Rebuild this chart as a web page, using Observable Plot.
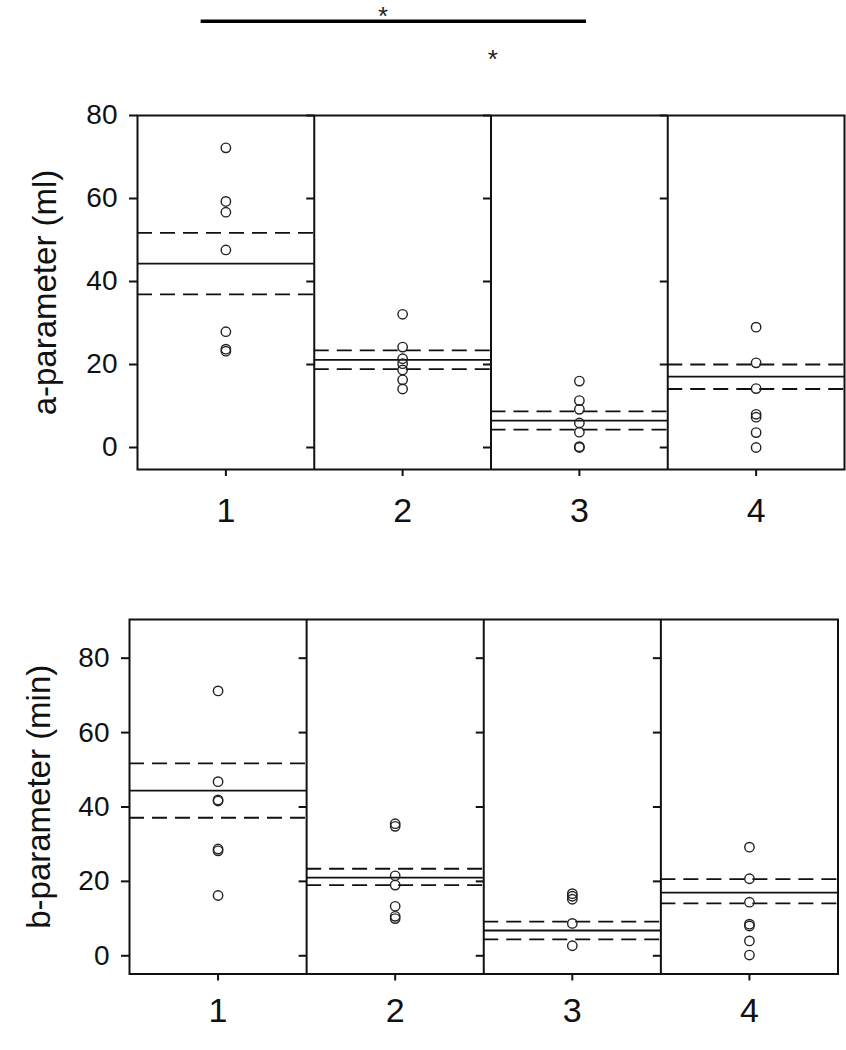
<!DOCTYPE html>
<html>
<head>
<meta charset="utf-8">
<script src="https://cdn.jsdelivr.net/npm/d3@7"></script>
<script src="https://cdn.jsdelivr.net/npm/@observablehq/plot@0.6"></script>
<style>
  html, body { margin: 0; padding: 0; background: #fff; }
  #chart { width: 846px; }
  #chart svg { display: block; }
</style>
</head>
<body>
<div id="chart"></div>
<script>
// ---- data ----
const groups = [1, 2, 3, 4];
const dividers = [1.5, 2.5, 3.5];
const yTicks = [0, 20, 40, 60, 80];

// a-parameter (ml): individual values per group
const a1 = [72.2, 59.3, 56.7, 47.6, 27.9, 23.7, 23.2];
const a2 = [32.1, 24.2, 21.4, 20.2, 18.7, 16.3, 14.1];
const a3 = [16.0, 11.3, 9.2, 5.9, 3.7, 0.2, 0.0];
const a4 = [29.0, 20.4, 14.2, 8.0, 7.3, 3.6, 0.0];
const aMean = [44.3, 21.1, 6.5, 17.1];
const aUpper = [51.7, 23.4, 8.7, 20.0];
const aLower = [36.9, 18.9, 4.3, 14.1];

// b-parameter (min): individual values per group
const b1 = [71.2, 46.8, 41.9, 41.6, 28.7, 28.2, 16.2];
const b2 = [35.5, 34.8, 21.5, 19.0, 13.3, 10.6, 10.0];
const b3 = [16.7, 16.0, 15.2, 8.7, 2.7];
const b4 = [29.2, 20.7, 14.4, 8.5, 8.0, 4.0, 0.2];
const bMean = [44.4, 21.0, 6.8, 17.0];
const bUpper = [51.7, 23.4, 9.2, 20.6];
const bLower = [37.1, 19.0, 4.4, 14.1];

// significance annotation above the top panel
const sigBar = [{x1: 0.86, x2: 3.04, y: 102.7}];
const sigStars = [{x: 1.89, y: 106.2, text: "*"}, {x: 2.51, y: 95.9, text: "*"}];

// ---- helpers ----
const FONT = "'Liberation Sans', Arial, sans-serif";
const INK = "#111";

function toPoints(lists) {
  const out = [];
  lists.forEach((vals, i) => vals.forEach(v => out.push({g: groups[i], v})));
  return out;
}
function toLevels(arr) {
  return arr.map((v, i) => ({g: groups[i], v}));
}
// short tick pointing left from a divider line (inner y-ticks)
const leftTick = { draw(ctx) { ctx.moveTo(-8, 0); ctx.lineTo(0, 0); } };

function panel({lists, mean, upper, lower, title, yDomain, height, mL, mR, mT, mB, titleDx, xPad, extra = []}) {
  const innerTicks = [];
  dividers.forEach(d => yTicks.forEach(t => innerTicks.push({x: d, y: t})));
  return Plot.plot({
    width: 846,
    height,
    marginLeft: mL,
    marginRight: mR,
    marginTop: mT,
    marginBottom: mB,
    style: {fontFamily: FONT, background: "white", color: INK, overflow: "visible"},
    x: {domain: [0.5, 4.5]},
    y: {domain: yDomain},
    marks: [
      Plot.axisY({ticks: yTicks, tickSize: 8, tickPadding: 12, fontSize: 28, label: null, stroke: INK, strokeWidth: 2}),
      Plot.axisX({ticks: groups, tickSize: 7, tickPadding: xPad, fontSize: 34, label: null, tickFormat: d => String(d), stroke: INK, strokeWidth: 2}),
      Plot.text([title], {frameAnchor: "left", rotate: -90, dx: titleDx, fontSize: 33, fill: INK, textAnchor: "middle", lineAnchor: "middle"}),
      Plot.ruleX(dividers, {stroke: INK, strokeWidth: 2}),
      Plot.dot(innerTicks, {x: "x", y: "y", symbol: leftTick, r: 4, stroke: INK, fill: "none", strokeWidth: 2}),
      Plot.ruleY(toLevels(mean), {y: "v", x1: d => d.g - 0.5, x2: d => d.g + 0.5, stroke: INK, strokeWidth: 1.8}),
      Plot.ruleY(toLevels(upper), {y: "v", x1: d => d.g - 0.5, x2: d => d.g + 0.5, stroke: INK, strokeWidth: 1.8, strokeDasharray: "15,8"}),
      Plot.ruleY(toLevels(lower), {y: "v", x1: d => d.g - 0.5, x2: d => d.g + 0.5, stroke: INK, strokeWidth: 1.8, strokeDasharray: "15,8"}),
      Plot.dot(toPoints(lists), {x: "g", y: "v", r: 4.7, stroke: "#222", fill: "none", strokeWidth: 1.4}),
      Plot.frame({stroke: INK, strokeWidth: 2}),
      ...extra
    ]
  });
}

const topPanel = panel({
  lists: [a1, a2, a3, a4], mean: aMean, upper: aUpper, lower: aLower,
  title: "a-parameter (ml)", yDomain: [-5.3, 80], height: 560,
  mL: 137, mR: 2, mT: 115, mB: 91, titleDx: -92, xPad: 21,
  extra: [
    Plot.ruleY(sigBar, {y: "y", x1: "x1", x2: "x2", stroke: "#000", strokeWidth: 3.5}),
    Plot.text(sigStars, {x: "x", y: "y", text: "text", fontSize: 26, fill: "#222", lineAnchor: "top"})
  ]
});

const bottomPanel = panel({
  lists: [b1, b2, b3, b4], mean: bMean, upper: bUpper, lower: bLower,
  title: "b-parameter (min)", yDomain: [-4.9, 90.4], height: 490,
  mL: 129, mR: 8.5, mT: 59, mB: 76.5, titleDx: -90, xPad: 17
});

const host = document.getElementById("chart");
host.appendChild(topPanel);
host.appendChild(bottomPanel);
</script>
</body>
</html>
